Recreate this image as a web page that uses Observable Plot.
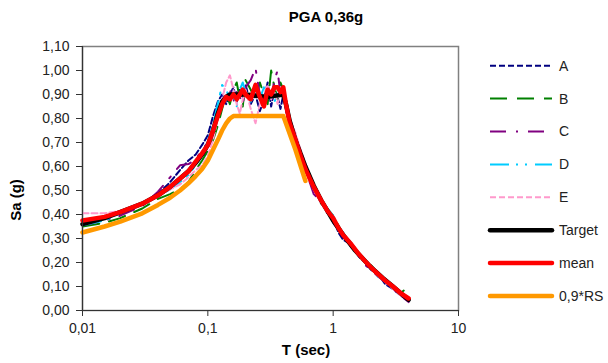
<!DOCTYPE html>
<html><head><meta charset="utf-8">
<script src="https://cdn.jsdelivr.net/npm/d3@7"></script>
<script src="https://cdn.jsdelivr.net/npm/@observablehq/plot@0.6"></script>
<style>
body{margin:0;background:#fff;font-family:"Liberation Sans",Arial,sans-serif;}
#wrap{position:relative;width:608px;height:363px;overflow:hidden;}
#chart{position:absolute;left:0;top:0;}
.lab{position:absolute;font-weight:bold;font-size:15px;color:#000;white-space:nowrap;line-height:1;}
#title{left:326px;top:9px;transform:translateX(-50%);}
#xlab{left:306px;top:342px;transform:translateX(-50%);}
#ylab{left:15px;top:200px;transform:translate(-50%,-50%) rotate(-90deg);}
#legend{position:absolute;left:0;top:0;}
</style></head><body>
<div id="wrap">
  <div id="chart"></div>
  <div class="lab" id="title">PGA 0,36g</div>
  <div class="lab" id="xlab">T (sec)</div>
  <div class="lab" id="ylab">Sa (g)</div>
  <svg id="legend" width="608" height="363"></svg>
</div>
<script>
// Periods of the record spectra and mean
const T = [0.01,0.015,0.02,0.03,0.04,0.05,0.06,0.07,0.08,0.09,0.1,0.11,0.12,0.13,0.14,0.15,0.16,0.17,0.18,0.19,0.2,0.22,0.24,0.26,0.28,0.3,0.32,0.34,0.36,0.38,0.4,0.42,0.45,0.5,0.55,0.6,0.65,0.7,0.8,0.9,1.0,1.1,1.2,1.4,1.6,1.8,2.0,2.3,2.6,3.0,3.5,4.0];
const recA = [0.365,0.385,0.405,0.445,0.485,0.535,0.585,0.625,0.65,0.69,0.73,0.81,0.87,0.90,0.86,0.90,0.93,0.87,0.92,0.89,0.94,0.86,0.90,0.83,0.88,0.95,0.85,0.92,0.89,0.84,0.90,0.84,0.77,0.69,0.61,0.585,0.555,0.505,0.465,0.405,0.385,0.325,0.295,0.275,0.225,0.20,0.17,0.15,0.11,0.09,0.06,0.04];
const recB = [0.35,0.365,0.385,0.425,0.465,0.485,0.505,0.535,0.585,0.625,0.665,0.71,0.77,0.84,0.90,0.86,0.92,0.95,0.88,0.85,0.96,0.92,0.88,0.95,0.90,0.86,1.00,0.93,0.88,0.95,0.92,0.88,0.80,0.72,0.66,0.595,0.555,0.525,0.445,0.425,0.395,0.355,0.315,0.265,0.24,0.21,0.19,0.15,0.13,0.10,0.075,0.10];
const recC = [0.355,0.375,0.395,0.435,0.495,0.555,0.605,0.61,0.63,0.67,0.70,0.755,0.82,0.86,0.88,0.92,0.87,0.91,0.89,0.86,0.93,0.96,1.01,0.90,0.87,0.92,0.89,0.96,1.00,0.90,0.91,0.85,0.77,0.71,0.65,0.565,0.535,0.485,0.455,0.415,0.365,0.335,0.305,0.265,0.23,0.19,0.17,0.14,0.12,0.09,0.06,0.035];
const recD = [0.355,0.375,0.405,0.445,0.475,0.505,0.535,0.565,0.605,0.645,0.71,0.775,0.86,0.94,0.92,0.88,0.90,0.85,0.92,0.95,0.91,0.87,0.92,0.88,0.93,0.89,0.91,0.87,0.90,0.92,0.90,0.87,0.80,0.73,0.65,0.605,0.565,0.515,0.465,0.425,0.395,0.345,0.325,0.28,0.23,0.21,0.18,0.14,0.13,0.10,0.07,0.045];
const recE = [0.405,0.405,0.415,0.445,0.475,0.505,0.525,0.555,0.585,0.605,0.645,0.71,0.80,0.88,0.95,0.98,0.92,0.86,0.82,0.88,0.92,0.84,0.78,0.86,0.90,0.94,0.88,0.92,0.86,0.93,0.90,0.88,0.80,0.74,0.67,0.615,0.545,0.505,0.445,0.415,0.375,0.335,0.315,0.28,0.24,0.20,0.18,0.15,0.12,0.09,0.06,0.045];
const meanV = [0.375,0.39,0.41,0.445,0.48,0.515,0.55,0.58,0.62,0.655,0.69,0.75,0.81,0.86,0.89,0.88,0.90,0.88,0.90,0.92,0.90,0.88,0.94,0.89,0.85,0.92,0.90,0.93,0.93,0.91,0.93,0.86,0.78,0.71,0.645,0.59,0.55,0.515,0.46,0.415,0.385,0.345,0.315,0.275,0.235,0.205,0.18,0.15,0.125,0.10,0.07,0.05];

// Target spectrum
const targetT = [0.01,0.015,0.02,0.03,0.04,0.05,0.06,0.07,0.08,0.09,0.1,0.11,0.12,0.13,0.14,0.15,0.2,0.3,0.4,0.42,0.45,0.5,0.6,0.7,0.8,0.9,1.0,1.2,1.5,2.0,2.5,3.0,3.5,4.0];
const targetV = [0.36,0.385,0.41,0.445,0.48,0.515,0.55,0.58,0.615,0.65,0.69,0.75,0.82,0.87,0.89,0.90,0.90,0.89,0.90,0.86,0.79,0.71,0.60,0.52,0.46,0.415,0.375,0.315,0.25,0.18,0.135,0.10,0.07,0.045];

// 0.9 * RS
const rsT = [0.01,0.015,0.02,0.03,0.04,0.05,0.06,0.07,0.08,0.09,0.1,0.11,0.12,0.13,0.14,0.15,0.16,0.4,0.5,0.6];
const rsV = [0.325,0.35,0.37,0.405,0.44,0.47,0.50,0.53,0.56,0.59,0.625,0.67,0.71,0.75,0.78,0.80,0.81,0.81,0.67,0.54];

// Axis ticks
const xTicks = [0.01, 0.1, 1, 10];
const yTicks = [0,0.1,0.2,0.3,0.4,0.5,0.6,0.7,0.8,0.9,1.0,1.1];

// Series styles
const seriesNames = ["A","B","C","D","E","Target","mean","0,9*RS"];
const seriesColors = ["#000080","#008000","#800080","#00CCFF","#FF99CC","#000000","#FF0000","#FF9900"];
const seriesDash = ["6,3","17,10","16,10,2,10","19,7,2,7,2,8","6,3",null,null,null];
const seriesWidth = [2,2,2,2,2,4.5,4.5,4.5];

const recs = [recA, recB, recC, recD, recE];
const rows = (xs, ys) => xs.map((t, i) => ({T: t, v: ys[i]}));

const marks = [];
recs.forEach((r, k) => {
  marks.push(Plot.line(rows(T, r), {x: "T", y: "v", stroke: seriesColors[k], strokeWidth: seriesWidth[k], strokeDasharray: seriesDash[k], clip: true}));
});
marks.push(Plot.line(rows(targetT, targetV), {x: "T", y: "v", stroke: seriesColors[5], strokeWidth: seriesWidth[5], strokeLinejoin: "round", strokeLinecap: "round"}));
marks.push(Plot.line(rows(T, meanV), {x: "T", y: "v", stroke: seriesColors[6], strokeWidth: seriesWidth[6], strokeLinejoin: "round", strokeLinecap: "round"}));
marks.push(Plot.line(rows(rsT, rsV), {x: "T", y: "v", stroke: seriesColors[7], strokeWidth: seriesWidth[7], strokeLinejoin: "round", strokeLinecap: "round"}));

const chart = Plot.plot({
  width: 608,
  height: 363,
  marginLeft: 82,
  marginRight: 150,
  marginTop: 46,
  marginBottom: 53,
  style: {fontFamily: "'Liberation Sans', Arial, sans-serif", fontSize: "14px", color: "#222", background: "#fff"},
  x: {type: "log", domain: [0.01, 10]},
  y: {domain: [0, 1.1]},
  marks: [
    Plot.frame({stroke: "#808080", strokeWidth: 1.5}),
    ...marks,
    Plot.ruleX([0.01], {stroke: "#333", strokeWidth: 1.2}),
    Plot.ruleY([0], {stroke: "#333", strokeWidth: 1.2}),
    Plot.axisX({ticks: xTicks, tickFormat: d => String(d).replace(".", ","), tickSize: 6, tickPadding: 7, label: null, fontSize: 14, stroke: "#333"}),
    Plot.axisY({ticks: yTicks, tickFormat: d => d.toFixed(2).replace(".", ","), tickSize: 6, tickPadding: 7, label: null, fontSize: 14, stroke: "#333"})
  ]
});
document.getElementById("chart").appendChild(chart);

// Legend
const leg = d3.select("#legend");
seriesNames.forEach((name, i) => {
  const y = 65.7 + i * 32.9;
  leg.append("line")
    .attr("x1", 490).attr("x2", 552).attr("y1", y).attr("y2", y)
    .attr("stroke", seriesColors[i])
    .attr("stroke-width", i < 5 ? 2 : 4.5)
    .attr("stroke-linecap", i < 5 ? "butt" : "round")
    .attr("stroke-dasharray", seriesDash[i]);
  leg.append("text")
    .attr("x", 559).attr("y", y).attr("dy", "0.35em")
    .attr("font-family", "'Liberation Sans', Arial, sans-serif")
    .attr("font-size", 14)
    .attr("fill", "#222")
    .text(name);
});
</script>
</body></html>
